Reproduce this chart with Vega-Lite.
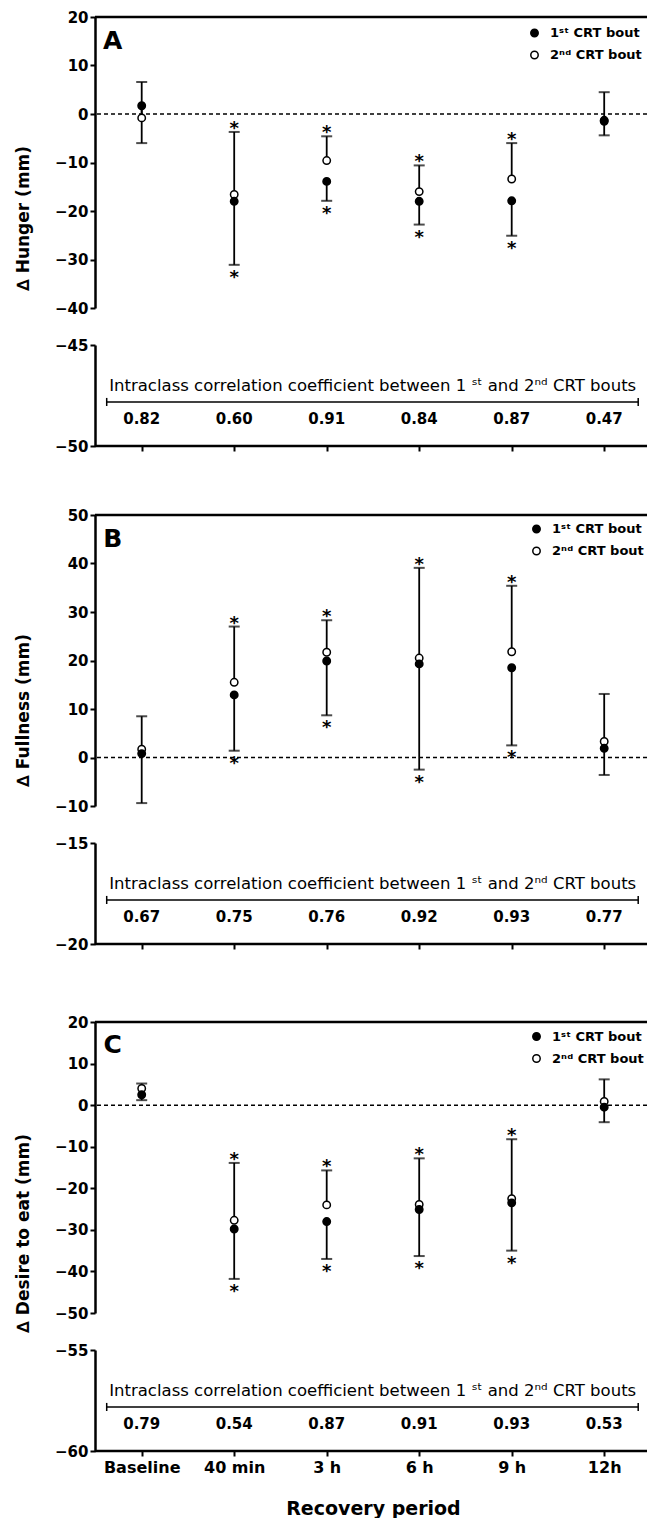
{
  "$schema": "https://vega.github.io/schema/vega-lite/v6.json",
  "padding": {"left": 14, "top": 10, "right": 0, "bottom": 0},
  "background": "white",
  "bounds": "flush",
  "spacing": 37,
  "datasets": {
    "pts": [
      {"panel": "A", "period": "Baseline", "bout": "2nd", "mean": -0.8, "bar": 6.6, "sig": false},
      {"panel": "A", "period": "Baseline", "bout": "1st", "mean": 1.7, "bar": -6.0, "sig": false},
      {"panel": "A", "period": "40 min", "bout": "2nd", "mean": -16.6, "bar": -3.7, "sig": true},
      {"panel": "A", "period": "40 min", "bout": "1st", "mean": -18.0, "bar": -31.1, "sig": true},
      {"panel": "A", "period": "3 h", "bout": "2nd", "mean": -9.6, "bar": -4.6, "sig": true},
      {"panel": "A", "period": "3 h", "bout": "1st", "mean": -13.9, "bar": -17.9, "sig": true},
      {"panel": "A", "period": "6 h", "bout": "2nd", "mean": -16.0, "bar": -10.6, "sig": true},
      {"panel": "A", "period": "6 h", "bout": "1st", "mean": -18.0, "bar": -22.8, "sig": true},
      {"panel": "A", "period": "9 h", "bout": "2nd", "mean": -13.4, "bar": -6.0, "sig": true},
      {"panel": "A", "period": "9 h", "bout": "1st", "mean": -17.9, "bar": -25.1, "sig": true},
      {"panel": "A", "period": "12h", "bout": "2nd", "mean": -1.3, "bar": 4.5, "sig": false},
      {"panel": "A", "period": "12h", "bout": "1st", "mean": -1.5, "bar": -4.4, "sig": false},
      {"panel": "B", "period": "Baseline", "bout": "2nd", "mean": 1.7, "bar": 8.5, "sig": false},
      {"panel": "B", "period": "Baseline", "bout": "1st", "mean": 0.8, "bar": -9.4, "sig": false},
      {"panel": "B", "period": "40 min", "bout": "2nd", "mean": 15.5, "bar": 27.0, "sig": true},
      {"panel": "B", "period": "40 min", "bout": "1st", "mean": 12.9, "bar": 1.4, "sig": true},
      {"panel": "B", "period": "3 h", "bout": "2nd", "mean": 21.7, "bar": 28.3, "sig": true},
      {"panel": "B", "period": "3 h", "bout": "1st", "mean": 19.9, "bar": 8.7, "sig": true},
      {"panel": "B", "period": "6 h", "bout": "2nd", "mean": 20.5, "bar": 39.1, "sig": true},
      {"panel": "B", "period": "6 h", "bout": "1st", "mean": 19.3, "bar": -2.5, "sig": true},
      {"panel": "B", "period": "9 h", "bout": "2nd", "mean": 21.8, "bar": 35.4, "sig": true},
      {"panel": "B", "period": "9 h", "bout": "1st", "mean": 18.5, "bar": 2.5, "sig": true},
      {"panel": "B", "period": "12h", "bout": "2nd", "mean": 3.3, "bar": 13.1, "sig": false},
      {"panel": "B", "period": "12h", "bout": "1st", "mean": 1.9, "bar": -3.6, "sig": false},
      {"panel": "C", "period": "Baseline", "bout": "2nd", "mean": 4.0, "bar": 5.2, "sig": false},
      {"panel": "C", "period": "Baseline", "bout": "1st", "mean": 2.5, "bar": 1.2, "sig": false},
      {"panel": "C", "period": "40 min", "bout": "2nd", "mean": -27.7, "bar": -13.9, "sig": true},
      {"panel": "C", "period": "40 min", "bout": "1st", "mean": -29.8, "bar": -41.8, "sig": true},
      {"panel": "C", "period": "3 h", "bout": "2nd", "mean": -24.0, "bar": -15.7, "sig": true},
      {"panel": "C", "period": "3 h", "bout": "1st", "mean": -28.0, "bar": -37.0, "sig": true},
      {"panel": "C", "period": "6 h", "bout": "2nd", "mean": -23.9, "bar": -12.8, "sig": true},
      {"panel": "C", "period": "6 h", "bout": "1st", "mean": -25.1, "bar": -36.3, "sig": true},
      {"panel": "C", "period": "9 h", "bout": "2nd", "mean": -22.5, "bar": -8.2, "sig": true},
      {"panel": "C", "period": "9 h", "bout": "1st", "mean": -23.5, "bar": -35.0, "sig": true},
      {"panel": "C", "period": "12h", "bout": "2nd", "mean": 0.9, "bar": 6.2, "sig": false},
      {"panel": "C", "period": "12h", "bout": "1st", "mean": -0.5, "bar": -4.1, "sig": false}
    ],
    "icc": [
      {"panel": "A", "period": "Baseline", "icc": 0.82},
      {"panel": "A", "period": "40 min", "icc": 0.60},
      {"panel": "A", "period": "3 h", "icc": 0.91},
      {"panel": "A", "period": "6 h", "icc": 0.84},
      {"panel": "A", "period": "9 h", "icc": 0.87},
      {"panel": "A", "period": "12h", "icc": 0.47},
      {"panel": "B", "period": "Baseline", "icc": 0.67},
      {"panel": "B", "period": "40 min", "icc": 0.75},
      {"panel": "B", "period": "3 h", "icc": 0.76},
      {"panel": "B", "period": "6 h", "icc": 0.92},
      {"panel": "B", "period": "9 h", "icc": 0.93},
      {"panel": "B", "period": "12h", "icc": 0.77},
      {"panel": "C", "period": "Baseline", "icc": 0.79},
      {"panel": "C", "period": "40 min", "icc": 0.54},
      {"panel": "C", "period": "3 h", "icc": 0.87},
      {"panel": "C", "period": "6 h", "icc": 0.91},
      {"panel": "C", "period": "9 h", "icc": 0.93},
      {"panel": "C", "period": "12h", "icc": 0.53}
    ]
  },
  "vconcat": [
    {
      "width": 552, "height": 291,
      "layer": [
        {"data": {"values": [{}]}, "mark": {"type": "rule", "strokeDash": [4, 3], "strokeWidth": 1.5, "color": "black"},
         "encoding": {"y": {"datum": 0, "type": "quantitative", "scale": {"domain": [-40, 20], "range": [291, 0], "nice": false, "zero": false},
           "axis": {"values": [-40, -30, -20, -10, 0, 10, 20], "title": "∆ Hunger (mm)", "titleX": -72, "titleY": 201, "titleAngle": -90, "titleBaseline": "middle", "titleAlign": "center"}}}},
        {"data": {"values": [{}]}, "mark": {"type": "rule", "strokeWidth": 2.5, "color": "black"},
         "encoding": {"y": {"datum": 20, "type": "quantitative"}}},
        {"data": {"name": "pts"}, "transform": [{"filter": "datum.panel == 'A'"}], "mark": {"type": "rule", "strokeWidth": 1.8, "color": "black"},
         "encoding": {"x": {"field": "period", "type": "ordinal", "scale": {"type": "point", "domain": ["Baseline", "40 min", "3 h", "6 h", "9 h", "12h"], "range": [46.7, 509.2], "padding": 0}, "axis": null},
           "y": {"field": "mean", "type": "quantitative"}, "y2": {"field": "bar"}}},
        {"data": {"name": "pts"}, "transform": [{"filter": "datum.panel == 'A'"}], "mark": {"type": "tick", "thickness": 2, "size": 11, "color": "black"},
         "encoding": {"x": {"field": "period", "type": "ordinal", "axis": null}, "y": {"field": "bar", "type": "quantitative"}}},
        {"data": {"name": "pts"}, "transform": [{"filter": "datum.panel == 'A'"}], "mark": {"type": "point", "shape": "circle", "filled": true, "size": 55, "stroke": "black", "strokeWidth": 1.5, "opacity": 1},
         "encoding": {"x": {"field": "period", "type": "ordinal", "axis": null}, "y": {"field": "mean", "type": "quantitative"},
           "fill": {"field": "bout", "type": "nominal", "scale": {"domain": ["1st", "2nd"], "range": ["black", "white"]},
             "legend": {"orient": "none", "legendX": 433, "legendY": 9.5, "title": null, "labelExpr": "datum.value == '1st' ? '1ˢᵗ CRT bout' : '2ⁿᵈ CRT bout'", "symbolType": "circle", "symbolSize": 55, "symbolStrokeColor": "black", "symbolStrokeWidth": 1.5, "rowPadding": 7, "padding": 0, "labelOffset": 9}}}},
        {"data": {"name": "pts"}, "transform": [{"filter": "datum.panel == 'A' && datum.sig && datum.bout == '2nd'"}], "mark": {"type": "text", "text": "*", "fontSize": 18, "fontWeight": "bold", "dy": -3},
         "encoding": {"x": {"field": "period", "type": "ordinal", "axis": null}, "y": {"field": "bar", "type": "quantitative"}}},
        {"data": {"name": "pts"}, "transform": [{"filter": "datum.panel == 'A' && datum.sig && datum.bout == '1st'"}], "mark": {"type": "text", "text": "*", "fontSize": 18, "fontWeight": "bold", "dy": 13},
         "encoding": {"x": {"field": "period", "type": "ordinal", "axis": null}, "y": {"field": "bar", "type": "quantitative"}}},
        {"data": {"values": [{}]}, "mark": {"type": "text", "text": "A", "fontSize": 25, "fontWeight": "bold", "dx": -29, "dy": 23.5, "align": "center", "baseline": "middle"},
         "encoding": {"x": {"datum": "Baseline", "type": "ordinal", "axis": null}, "y": {"datum": 20, "type": "quantitative"}}}
      ]
    },
    {
      "width": 552, "height": 101,
      "layer": [
        {"data": {"name": "icc"}, "transform": [{"filter": "datum.panel == 'A'"}], "mark": {"type": "text", "fontSize": 15, "fontWeight": "bold", "baseline": "middle"},
         "encoding": {"x": {"field": "period", "type": "ordinal", "scale": {"type": "point", "domain": ["Baseline", "40 min", "3 h", "6 h", "9 h", "12h"], "range": [46.7, 509.2], "padding": 0}, "axis": {"orient": "bottom", "labels": false, "domain": false, "title": null}},
           "y": {"datum": -48.64, "type": "quantitative", "scale": {"domain": [-50, -45], "range": [101, 0], "nice": false, "zero": false}, "axis": {"values": [-50, -45], "title": null}},
           "text": {"field": "icc", "type": "quantitative", "format": ".2f"}}},
        {"data": {"values": [{}]}, "mark": {"type": "rule", "strokeWidth": 2.5, "color": "black"},
         "encoding": {"y": {"datum": -50, "type": "quantitative"}}},
        {"data": {"values": [{}]}, "mark": {"type": "text", "text": "Intraclass correlation coefficient between 1 ˢᵗ and 2ⁿᵈ CRT bouts", "fontSize": 16.5, "dx": 46, "baseline": "middle"},
         "encoding": {"x": {"datum": "3 h", "type": "ordinal"}, "y": {"datum": -47.05, "type": "quantitative"}}},
        {"data": {"values": [{}]}, "mark": {"type": "rule", "strokeWidth": 1.5, "color": "black", "xOffset": -35, "x2Offset": 34},
         "encoding": {"x": {"datum": "Baseline", "type": "ordinal"}, "x2": {"datum": "12h"}, "y": {"datum": -47.82, "type": "quantitative"}}},
        {"data": {"values": [{}]}, "mark": {"type": "rule", "strokeWidth": 1.5, "color": "black", "xOffset": -35},
         "encoding": {"x": {"datum": "Baseline", "type": "ordinal"}, "y": {"datum": -48.02, "type": "quantitative"}, "y2": {"datum": -47.62}}},
        {"data": {"values": [{}]}, "mark": {"type": "rule", "strokeWidth": 1.5, "color": "black", "xOffset": 34},
         "encoding": {"x": {"datum": "12h", "type": "ordinal"}, "y": {"datum": -48.02, "type": "quantitative"}, "y2": {"datum": -47.62}}}
      ]
    },
    {
      "width": 552, "height": 323,
      "layer": [
        {"data": {"values": [{}]}, "mark": {"type": "rule", "strokeDash": [4, 3], "strokeWidth": 1.5, "color": "black"},
         "encoding": {"y": {"datum": 0, "type": "quantitative", "scale": {"domain": [-10, 50], "range": [323, 32], "nice": false, "zero": false},
           "axis": {"values": [-10, 0, 10, 20, 30, 40, 50], "title": "∆ Fullness (mm)", "titleX": -72, "titleY": 227, "titleAngle": -90, "titleBaseline": "middle", "titleAlign": "center"}}}},
        {"data": {"values": [{}]}, "mark": {"type": "rule", "strokeWidth": 2.5, "color": "black"},
         "encoding": {"y": {"datum": 50, "type": "quantitative"}}},
        {"data": {"name": "pts"}, "transform": [{"filter": "datum.panel == 'B'"}], "mark": {"type": "rule", "strokeWidth": 1.8, "color": "black"},
         "encoding": {"x": {"field": "period", "type": "ordinal", "scale": {"type": "point", "domain": ["Baseline", "40 min", "3 h", "6 h", "9 h", "12h"], "range": [46.7, 509.2], "padding": 0}, "axis": null},
           "y": {"field": "mean", "type": "quantitative"}, "y2": {"field": "bar"}}},
        {"data": {"name": "pts"}, "transform": [{"filter": "datum.panel == 'B'"}], "mark": {"type": "tick", "thickness": 2, "size": 11, "color": "black"},
         "encoding": {"x": {"field": "period", "type": "ordinal", "axis": null}, "y": {"field": "bar", "type": "quantitative"}}},
        {"data": {"name": "pts"}, "transform": [{"filter": "datum.panel == 'B'"}], "mark": {"type": "point", "shape": "circle", "filled": true, "size": 55, "stroke": "black", "strokeWidth": 1.5, "opacity": 1},
         "encoding": {"x": {"field": "period", "type": "ordinal", "axis": null}, "y": {"field": "mean", "type": "quantitative"},
           "fill": {"field": "bout", "type": "nominal", "scale": {"domain": ["1st", "2nd"], "range": ["black", "white"]},
             "legend": {"orient": "none", "legendX": 435, "legendY": 39.5, "title": null, "labelExpr": "datum.value == '1st' ? '1ˢᵗ CRT bout' : '2ⁿᵈ CRT bout'", "symbolType": "circle", "symbolSize": 55, "symbolStrokeColor": "black", "symbolStrokeWidth": 1.5, "rowPadding": 7, "padding": 0, "labelOffset": 9}}}},
        {"data": {"name": "pts"}, "transform": [{"filter": "datum.panel == 'B' && datum.sig && datum.bout == '2nd'"}], "mark": {"type": "text", "text": "*", "fontSize": 18, "fontWeight": "bold", "dy": -3},
         "encoding": {"x": {"field": "period", "type": "ordinal", "axis": null}, "y": {"field": "bar", "type": "quantitative"}}},
        {"data": {"name": "pts"}, "transform": [{"filter": "datum.panel == 'B' && datum.sig && datum.bout == '1st'"}], "mark": {"type": "text", "text": "*", "fontSize": 18, "fontWeight": "bold", "dy": 13},
         "encoding": {"x": {"field": "period", "type": "ordinal", "axis": null}, "y": {"field": "bar", "type": "quantitative"}}},
        {"data": {"values": [{}]}, "mark": {"type": "text", "text": "B", "fontSize": 25, "fontWeight": "bold", "dx": -29, "dy": 23.5, "align": "center", "baseline": "middle"},
         "encoding": {"x": {"datum": "Baseline", "type": "ordinal", "axis": null}, "y": {"datum": 50, "type": "quantitative"}}}
      ]
    },
    {
      "width": 552, "height": 101,
      "layer": [
        {"data": {"name": "icc"}, "transform": [{"filter": "datum.panel == 'B'"}], "mark": {"type": "text", "fontSize": 15, "fontWeight": "bold", "baseline": "middle"},
         "encoding": {"x": {"field": "period", "type": "ordinal", "scale": {"type": "point", "domain": ["Baseline", "40 min", "3 h", "6 h", "9 h", "12h"], "range": [46.7, 509.2], "padding": 0}, "axis": {"orient": "bottom", "labels": false, "domain": false, "title": null}},
           "y": {"datum": -18.64, "type": "quantitative", "scale": {"domain": [-20, -15], "range": [101, 0], "nice": false, "zero": false}, "axis": {"values": [-20, -15], "title": null}},
           "text": {"field": "icc", "type": "quantitative", "format": ".2f"}}},
        {"data": {"values": [{}]}, "mark": {"type": "rule", "strokeWidth": 2.5, "color": "black"},
         "encoding": {"y": {"datum": -20, "type": "quantitative"}}},
        {"data": {"values": [{}]}, "mark": {"type": "text", "text": "Intraclass correlation coefficient between 1 ˢᵗ and 2ⁿᵈ CRT bouts", "fontSize": 16.5, "dx": 46, "baseline": "middle"},
         "encoding": {"x": {"datum": "3 h", "type": "ordinal"}, "y": {"datum": -17.05, "type": "quantitative"}}},
        {"data": {"values": [{}]}, "mark": {"type": "rule", "strokeWidth": 1.5, "color": "black", "xOffset": -35, "x2Offset": 34},
         "encoding": {"x": {"datum": "Baseline", "type": "ordinal"}, "x2": {"datum": "12h"}, "y": {"datum": -17.82, "type": "quantitative"}}},
        {"data": {"values": [{}]}, "mark": {"type": "rule", "strokeWidth": 1.5, "color": "black", "xOffset": -35},
         "encoding": {"x": {"datum": "Baseline", "type": "ordinal"}, "y": {"datum": -18.02, "type": "quantitative"}, "y2": {"datum": -17.62}}},
        {"data": {"values": [{}]}, "mark": {"type": "rule", "strokeWidth": 1.5, "color": "black", "xOffset": 34},
         "encoding": {"x": {"datum": "12h", "type": "ordinal"}, "y": {"datum": -18.02, "type": "quantitative"}, "y2": {"datum": -17.62}}}
      ]
    },
    {
      "width": 552, "height": 332,
      "layer": [
        {"data": {"values": [{}]}, "mark": {"type": "rule", "strokeDash": [4, 3], "strokeWidth": 1.5, "color": "black"},
         "encoding": {"y": {"datum": 0, "type": "quantitative", "scale": {"domain": [-50, 20], "range": [332, 41], "nice": false, "zero": false},
           "axis": {"values": [-50, -40, -30, -20, -10, 0, 10, 20], "title": "∆ Desire to eat (mm)", "titleX": -72, "titleY": 252, "titleAngle": -90, "titleBaseline": "middle", "titleAlign": "center"}}}},
        {"data": {"values": [{}]}, "mark": {"type": "rule", "strokeWidth": 2.5, "color": "black"},
         "encoding": {"y": {"datum": 20, "type": "quantitative"}}},
        {"data": {"name": "pts"}, "transform": [{"filter": "datum.panel == 'C'"}], "mark": {"type": "rule", "strokeWidth": 1.8, "color": "black"},
         "encoding": {"x": {"field": "period", "type": "ordinal", "scale": {"type": "point", "domain": ["Baseline", "40 min", "3 h", "6 h", "9 h", "12h"], "range": [46.7, 509.2], "padding": 0}, "axis": null},
           "y": {"field": "mean", "type": "quantitative"}, "y2": {"field": "bar"}}},
        {"data": {"name": "pts"}, "transform": [{"filter": "datum.panel == 'C'"}], "mark": {"type": "tick", "thickness": 2, "size": 11, "color": "black"},
         "encoding": {"x": {"field": "period", "type": "ordinal", "axis": null}, "y": {"field": "bar", "type": "quantitative"}}},
        {"data": {"name": "pts"}, "transform": [{"filter": "datum.panel == 'C'"}], "mark": {"type": "point", "shape": "circle", "filled": true, "size": 55, "stroke": "black", "strokeWidth": 1.5, "opacity": 1},
         "encoding": {"x": {"field": "period", "type": "ordinal", "axis": null}, "y": {"field": "mean", "type": "quantitative"},
           "fill": {"field": "bout", "type": "nominal", "scale": {"domain": ["1st", "2nd"], "range": ["black", "white"]},
             "legend": {"orient": "none", "legendX": 435, "legendY": 49, "title": null, "labelExpr": "datum.value == '1st' ? '1ˢᵗ CRT bout' : '2ⁿᵈ CRT bout'", "symbolType": "circle", "symbolSize": 55, "symbolStrokeColor": "black", "symbolStrokeWidth": 1.5, "rowPadding": 7, "padding": 0, "labelOffset": 9}}}},
        {"data": {"name": "pts"}, "transform": [{"filter": "datum.panel == 'C' && datum.sig && datum.bout == '2nd'"}], "mark": {"type": "text", "text": "*", "fontSize": 18, "fontWeight": "bold", "dy": -3},
         "encoding": {"x": {"field": "period", "type": "ordinal", "axis": null}, "y": {"field": "bar", "type": "quantitative"}}},
        {"data": {"name": "pts"}, "transform": [{"filter": "datum.panel == 'C' && datum.sig && datum.bout == '1st'"}], "mark": {"type": "text", "text": "*", "fontSize": 18, "fontWeight": "bold", "dy": 13},
         "encoding": {"x": {"field": "period", "type": "ordinal", "axis": null}, "y": {"field": "bar", "type": "quantitative"}}},
        {"data": {"values": [{}]}, "mark": {"type": "text", "text": "C", "fontSize": 25, "fontWeight": "bold", "dx": -29, "dy": 23, "align": "center", "baseline": "middle"},
         "encoding": {"x": {"datum": "Baseline", "type": "ordinal", "axis": null}, "y": {"datum": 20, "type": "quantitative"}}}
      ]
    },
    {
      "width": 552, "height": 101,
      "layer": [
        {"data": {"name": "icc"}, "transform": [{"filter": "datum.panel == 'C'"}], "mark": {"type": "text", "fontSize": 15, "fontWeight": "bold", "baseline": "middle"},
         "encoding": {"x": {"field": "period", "type": "ordinal", "scale": {"type": "point", "domain": ["Baseline", "40 min", "3 h", "6 h", "9 h", "12h"], "range": [46.7, 509.2], "padding": 0},
             "axis": {"orient": "bottom", "labels": true, "domain": false, "labelAngle": 0, "labelFontSize": 16, "labelPadding": 3, "title": "Recovery period", "titleFontSize": 19, "titlePadding": 24}},
           "y": {"datum": -58.64, "type": "quantitative", "scale": {"domain": [-60, -55], "range": [101, 0], "nice": false, "zero": false}, "axis": {"values": [-60, -55], "title": null}},
           "text": {"field": "icc", "type": "quantitative", "format": ".2f"}}},
        {"data": {"values": [{}]}, "mark": {"type": "rule", "strokeWidth": 2.5, "color": "black"},
         "encoding": {"y": {"datum": -60, "type": "quantitative"}}},
        {"data": {"values": [{}]}, "mark": {"type": "text", "text": "Intraclass correlation coefficient between 1 ˢᵗ and 2ⁿᵈ CRT bouts", "fontSize": 16.5, "dx": 46, "baseline": "middle"},
         "encoding": {"x": {"datum": "3 h", "type": "ordinal"}, "y": {"datum": -57.05, "type": "quantitative"}}},
        {"data": {"values": [{}]}, "mark": {"type": "rule", "strokeWidth": 1.5, "color": "black", "xOffset": -35, "x2Offset": 34},
         "encoding": {"x": {"datum": "Baseline", "type": "ordinal"}, "x2": {"datum": "12h"}, "y": {"datum": -57.82, "type": "quantitative"}}},
        {"data": {"values": [{}]}, "mark": {"type": "rule", "strokeWidth": 1.5, "color": "black", "xOffset": -35},
         "encoding": {"x": {"datum": "Baseline", "type": "ordinal"}, "y": {"datum": -58.02, "type": "quantitative"}, "y2": {"datum": -57.62}}},
        {"data": {"values": [{}]}, "mark": {"type": "rule", "strokeWidth": 1.5, "color": "black", "xOffset": 34},
         "encoding": {"x": {"datum": "12h", "type": "ordinal"}, "y": {"datum": -58.02, "type": "quantitative"}, "y2": {"datum": -57.62}}}
      ]
    }
  ],
  "resolve": {
    "scale": {"x": "independent", "y": "independent", "fill": "independent"},
    "axis": {"x": "independent", "y": "independent"},
    "legend": {"fill": "independent"}
  },
  "config": {
    "view": {"stroke": null},
    "font": "DejaVu Sans",
    "text": {"font": "DejaVu Sans", "color": "black"},
    "axis": {
      "grid": false, "domainColor": "black", "domainWidth": 2.5, "tickColor": "black", "tickWidth": 2, "tickSize": 5,
      "labelColor": "black", "labelFont": "DejaVu Sans", "labelFontWeight": "bold", "labelFontSize": 15, "labelPadding": 2,
      "titleColor": "black", "titleFont": "DejaVu Sans", "titleFontWeight": "bold", "titleFontSize": 17
    },
    "legend": {"labelFont": "DejaVu Sans", "labelFontWeight": "bold", "labelFontSize": 13, "labelColor": "black"}
  }
}
